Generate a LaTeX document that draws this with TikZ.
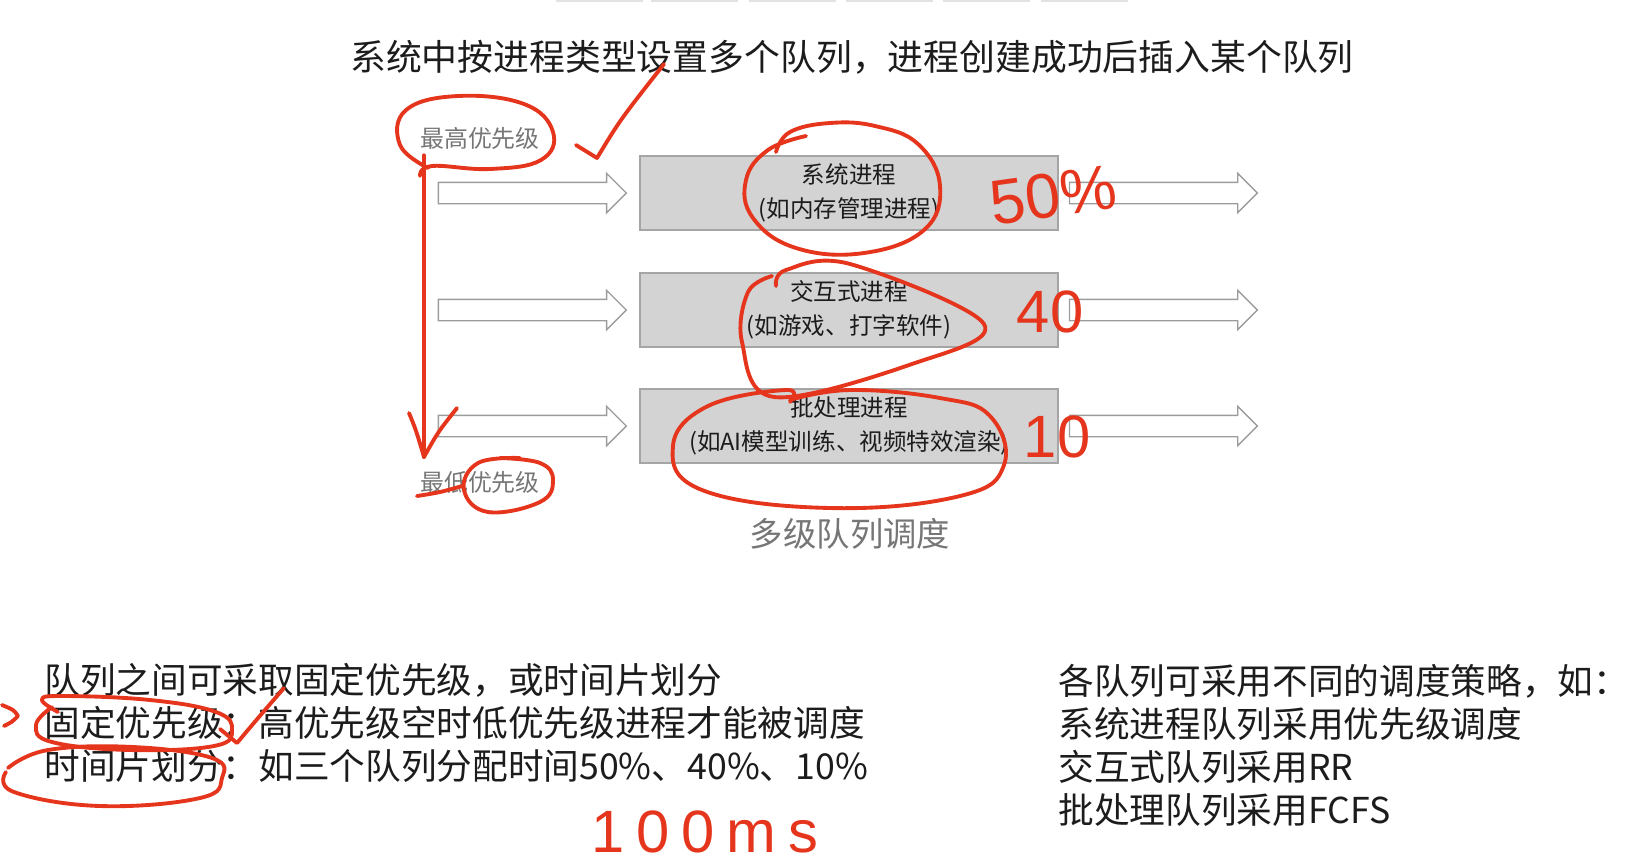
\documentclass[tikz,border=0pt]{standalone}
\usepackage{fontspec}
\newfontfamily\cjk{Noto Sans CJK SC}
\newfontfamily\hand{Liberation Sans}
\newfontfamily\handwide{Liberation Sans}[LetterSpace=20]
\usetikzlibrary{calc,shapes.arrows}
\definecolor{boxgray}{HTML}{D3D3D3}
\definecolor{edgegray}{HTML}{A5A5A5}
\definecolor{arrowgray}{HTML}{9C9C9C}
\definecolor{labelgray}{HTML}{767676}
\definecolor{inkred}{HTML}{E5351D}
\definecolor{textblack}{HTML}{1C1C1C}
\definecolor{stripgray}{HTML}{E2E2E4}

\tikzset{
  queuebox/.style={draw=edgegray, fill=boxgray, line width=0.9pt, minimum width=8.36cm,
    minimum height=1.48cm, align=center, text=textblack, font=\cjk\fontsize{13.4}{19.3}\selectfont},
  qarrow/.style={single arrow, draw=arrowgray, fill=white, line width=0.8pt, inner xsep=0pt,
    inner ysep=0.2cm, minimum width=0pt, single arrow head extend=0.18cm, minimum height=3.76cm},
  prio/.style={text=labelgray, font=\cjk\fontsize{13.6}{16}\selectfont},
  note/.style={text=textblack, align=left, inner sep=0pt, font=\cjk\fontsize{20.3}{24.5}\selectfont},
  inkline/.style={draw=inkred, line width=2.2pt, line cap=round, line join=round},
  handnum/.style={text=inkred, inner sep=0pt, font=\hand\fontsize{34}{34}\selectfont},
}

\begin{document}
\begin{tikzpicture}[x=0.02cm, y=-0.02cm]
  \useasboundingbox (0,0) rectangle (1627,867);
  % player strip at the top edge
  \foreach \xa in {556,651,749,846,943,1041}
    \fill[stripgray] (\xa,0) rectangle ++(87,2);

  \node[text=textblack, font=\cjk\fontsize{20.4}{26}\selectfont] (title) at (852,57)
    {系统中按进程类型设置多个队列，进程创建成功后插入某个队列};

  % the three queues
  \node[queuebox] (sys)   at (849,193) {系统进程\\(如内存管理进程)};
  \node[queuebox] (inter) at (849,310) {交互式进程\\(如游戏、打字软件)};
  \node[queuebox] (batch) at (849,426) {批处理进程\\(如AI模型训练、视频特效渲染)};
  \foreach \q in {sys,inter,batch} {
    \node[qarrow, anchor=tip]  (\q in)  at ($(\q.west)+(-0.24cm,0)$) {};
    \node[qarrow, anchor=tail] (\q out) at ($(\q.east)+(0.2cm,0)$) {};
  }

  \node[prio] (high) at (480,138) {最高优先级};
  \node[prio] (low)  at (480,482) {最低优先级};
  \node[text=labelgray, font=\cjk\fontsize{19}{22}\selectfont] (caption) at (850,534) {多级队列调度};

  \node[note, anchor=west] (rules) at (44,723)
    {队列之间可采取固定优先级，或时间片划分\\
     固定优先级：高优先级空时低优先级进程才能被调度\\
     时间片划分：如三个队列分配时间50\%、40\%、10\%};
  \node[note, anchor=west] (policies) at (1058,745)
    {各队列可采用不同的调度策略，如：\\
     系统进程队列采用优先级调度\\
     交互式队列采用RR\\
     批处理队列采用FCFS};

  % red pen marks
  \draw[inkline] plot[smooth, tension=0.7] coordinates
    {(428,168) (400,145) (406,110) (458,96) (524,104) (553,132) (541,160) (490,169) (432,166) (420,176)};
  \coordinate (down) at (424,457);
  \draw[inkline] (high.south west -| down) -- (down);
  \draw[inkline] (409,413) .. controls (416,430) .. (down) .. controls (438,432) .. (457,408);
  \draw[inkline] (576,145) -- (597,158) .. controls (620,120) .. (664,64);
  \draw[inkline] plot[smooth, tension=0.7] coordinates
    {(417,496) (440,492) (462,486)};
  \draw[inkline] plot[smooth, tension=0.7] coordinates
    {(520,458) (478,463) (464,490) (488,512) (540,502) (553,480) (540,463) (500,458)};
  \draw[inkline] plot[smooth, tension=0.7] coordinates
    {(776,152) (790,132) (830,123) (875,126) (918,144) (940,186) (924,230) (864,253) (796,248) (753,218) (746,180) (768,150) (806,136)};
  \draw[inkline] plot[smooth, tension=0.6] coordinates
    {(776,286) (786,270) (850,264) (984,324) (912,364) (774,397) (742,342) (748,292) (772,276)};
  \draw[inkline] plot[smooth, tension=0.7] coordinates
    {(790,402) (786,390) (708,406) (673,446) (702,490) (830,508) (960,496) (1004,465) (990,416) (940,398) (850,390) (790,400)};
  \node[handnum, rotate=8, font=\hand\fontsize{36}{36}\selectfont] (pct50) at (1053,195) {50\%};
  \node[handnum] (pct40) at (1050,312) {40};
  \node[handnum] (pct10) at (1057,437) {10};

  \draw[inkline] (2,705) .. controls (14,710) .. (18,716) .. controls (12,722) .. (4,726);
  \draw[inkline] plot[smooth, tension=0.7] coordinates
    {(58,712) (42,700) (62,696) (150,700) (216,712) (232,730) (214,746) (130,750) (52,742) (36,725) (52,707)};
  \draw[inkline] (220,729) -- (237,743) .. controls (258,718) .. (284,688);
  \draw[inkline] plot[smooth, tension=0.7] coordinates
    {(8,768) (48,750) (133,747) (212,758) (222,778) (200,798) (100,806) (14,792) (6,772)};
  \node[handnum, font=\handwide\fontsize{34}{34}\selectfont] (ms) at (705,832) {100ms};
\end{tikzpicture}
\end{document}
